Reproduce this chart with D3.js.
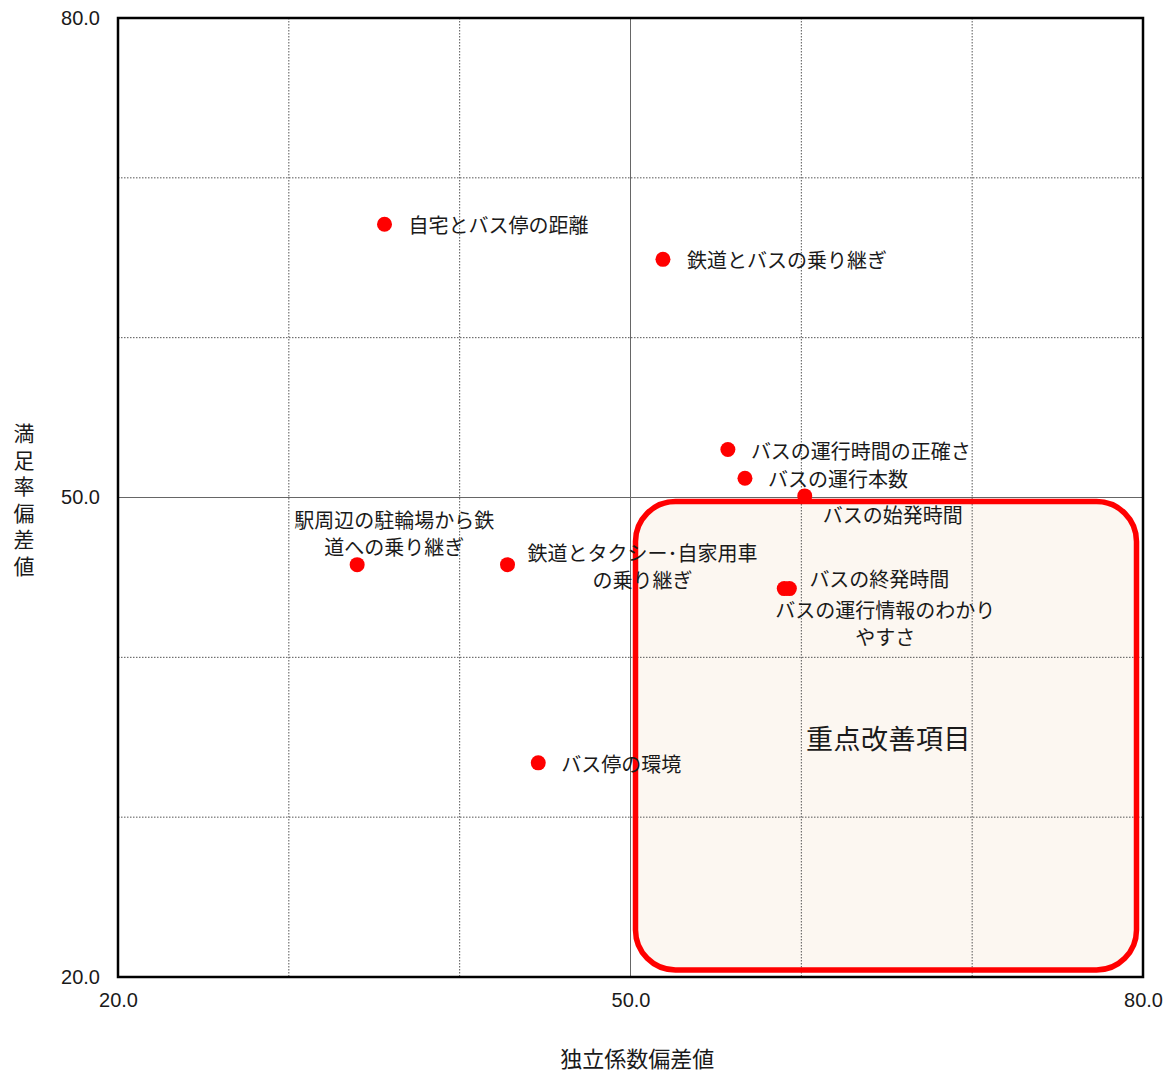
<!DOCTYPE html>
<html>
<head>
<meta charset="utf-8">
<script src="https://cdn.jsdelivr.net/npm/d3@7"></script>
<style>
  body { margin: 0; background: #fff; }
  text { font-family: "Noto Sans CJK JP", "Noto Sans", sans-serif; fill: #1a1a1a; }
  .tick text { font-family: "Liberation Sans", Arial, sans-serif; }
</style>
</head>
<body>
<div id="chart"></div>
<script>
// data
var items = ["自宅とバス停の距離", "鉄道とバスの乗り継ぎ", "バスの運行時間の正確さ", "バスの運行本数",
             "バスの始発時間", "バスの終発時間", "バスの運行情報のわかりやすさ",
             "駅周辺の駐輪場から鉄道への乗り継ぎ", "鉄道とタクシー･自家用車の乗り継ぎ", "バス停の環境"];
var xValues = [35.6, 51.9, 55.7, 56.7, 60.2, 59.3, 59.0, 34.0, 42.8, 44.6];
var yValues = [67.1, 64.9, 53.0, 51.2, 50.1, 44.3, 44.3, 45.8, 45.8, 33.4];
var tickValues = [20, 50, 80];
var gridValues = [30, 40, 50, 60, 70];
var focusX = [50, 80];
var focusY = [20, 50];

// label placement (pixels relative to point)
var labelLines = [
  ["自宅とバス停の距離"], ["鉄道とバスの乗り継ぎ"], ["バスの運行時間の正確さ"], ["バスの運行本数"],
  ["バスの始発時間"], ["バスの終発時間"], ["バスの運行情報のわかり", "やすさ"],
  ["駅周辺の駐輪場から鉄", "道への乗り継ぎ"], ["鉄道とタクシー･自家用車", "の乗り継ぎ"], ["バス停の環境"]
];
var labelPos = [
  {dx: 24, dy: 0, anchor: "start"}, {dx: 24, dy: 0, anchor: "start"},
  {dx: 23, dy: 0, anchor: "start"}, {dx: 23, dy: 0, anchor: "start"},
  {dx: 88, dy: 18, anchor: "middle"}, {dx: 90, dy: -11, anchor: "middle"},
  {dx: 101, dy: 20, anchor: "middle"}, {dx: 37, dy: -46, anchor: "middle"},
  {dx: 135, dy: -13, anchor: "middle"}, {dx: 23, dy: 0, anchor: "start"}
];

var svgWidth = 1173;
var svgHeight = 1073;
var margin = {top: 18, right: 30, bottom: 96, left: 118};
var width = svgWidth - margin.left - margin.right;
var height = svgHeight - margin.top - margin.bottom;

var svg = d3.select("#chart").append("svg")
  .attr("width", svgWidth)
  .attr("height", svgHeight);
var g = svg.append("g")
  .attr("transform", `translate(${margin.left}, ${margin.top})`);

var x = d3.scaleLinear().domain([20, 80]).range([0, width]);
var y = d3.scaleLinear().domain([20, 80]).range([height, 0]);

// focus area fill
var fx0 = x(focusX[0]) + 5, fx1 = x(focusX[1]) - 6.5;
var fy0 = y(focusY[1]) + 4, fy1 = y(focusY[0]) - 7;
g.append("rect")
  .attr("x", fx0).attr("y", fy0)
  .attr("width", fx1 - fx0).attr("height", fy1 - fy0)
  .attr("rx", 40).attr("ry", 40)
  .attr("fill", "#fcf7f1");

// grid
gridValues.forEach(function(v) {
  var solid = v === 50;
  g.append("line")
    .attr("x1", x(v)).attr("x2", x(v)).attr("y1", 0).attr("y2", height)
    .attr("stroke", solid ? "#666" : "#555")
    .attr("stroke-width", 1)
    .attr("stroke-dasharray", solid ? null : "1.5,1.5");
  g.append("line")
    .attr("y1", y(v)).attr("y2", y(v)).attr("x1", 0).attr("x2", width)
    .attr("stroke", solid ? "#666" : "#555")
    .attr("stroke-width", 1)
    .attr("stroke-dasharray", solid ? null : "1.5,1.5");
});

// focus area border
g.append("rect")
  .attr("x", fx0).attr("y", fy0)
  .attr("width", fx1 - fx0).attr("height", fy1 - fy0)
  .attr("rx", 40).attr("ry", 40)
  .attr("fill", "none")
  .attr("stroke", "#ff0000")
  .attr("stroke-width", 5.5);

g.append("text")
  .attr("x", x(65.1)).attr("y", y(35.0))
  .attr("text-anchor", "middle")
  .attr("dominant-baseline", "central")
  .attr("font-size", 27)
  .attr("letter-spacing", 0.5)
  .text("重点改善項目");

// axes
var xAxis = d3.axisBottom(x).tickValues(tickValues).tickSize(0).tickPadding(16).tickFormat(d3.format(".1f"));
var yAxis = d3.axisLeft(y).tickValues(tickValues).tickSize(0).tickPadding(18).tickFormat(d3.format(".1f"));

var gx = g.append("g").attr("transform", `translate(0, ${height})`).call(xAxis);
var gy = g.append("g").call(yAxis);
[gx, gy].forEach(function(a) {
  a.select(".domain").remove();
  a.selectAll("text").attr("font-size", 20).attr("fill", "#111");
});

// frame
g.append("rect")
  .attr("width", width).attr("height", height)
  .attr("fill", "none")
  .attr("stroke", "#000")
  .attr("stroke-width", 2.5);

// points
g.selectAll("circle.pt")
  .data(items)
  .enter().append("circle")
  .attr("class", "pt")
  .attr("cx", function(d, i) { return x(xValues[i]); })
  .attr("cy", function(d, i) { return y(yValues[i]); })
  .attr("r", 7.5)
  .attr("fill", "#ff0000");

// labels
items.forEach(function(d, i) {
  var p = labelPos[i];
  var t = g.append("text")
    .attr("x", x(xValues[i]) + p.dx)
    .attr("y", y(yValues[i]) + p.dy)
    .attr("text-anchor", p.anchor)
    .attr("dominant-baseline", "central")
    .attr("font-size", 20);
  labelLines[i].forEach(function(line, j) {
    t.append("tspan")
      .attr("x", x(xValues[i]) + p.dx)
      .attr("dy", j === 0 ? 0 : 27)
      .text(line);
  });
});

// axis titles
svg.append("text")
  .attr("x", margin.left + x(50.4))
  .attr("y", 1057)
  .attr("text-anchor", "middle")
  .attr("dominant-baseline", "central")
  .attr("font-size", 22)
  .text("独立係数偏差値");

svg.append("text")
  .attr("x", 24)
  .attr("y", 423)
  .attr("font-size", 21)
  .attr("writing-mode", "vertical-rl")
  .attr("letter-spacing", 5.5)
  .text("満足率偏差値");
</script>
</body>
</html>
